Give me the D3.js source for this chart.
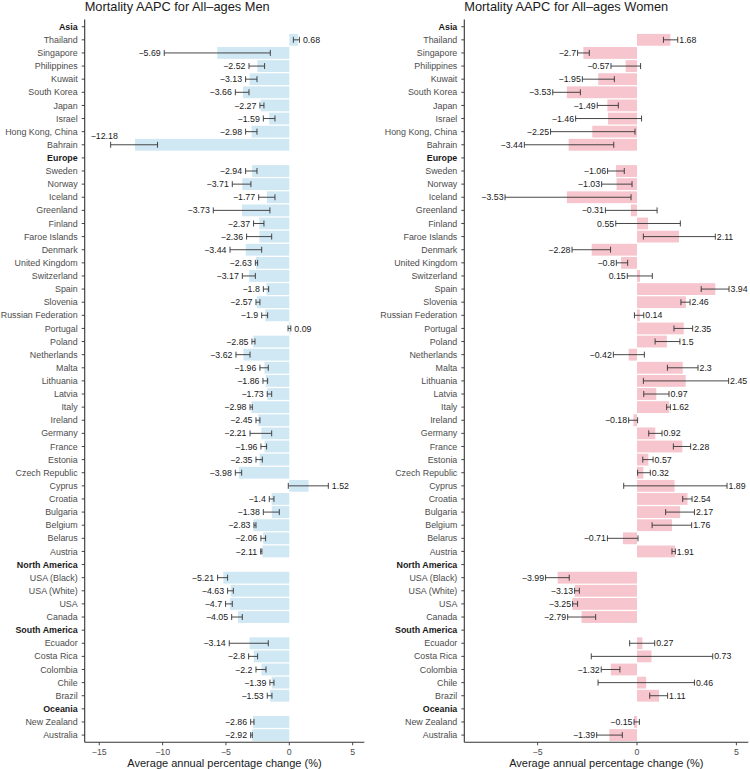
<!DOCTYPE html>
<html lang="en">
<head>
<meta charset="utf-8">
<script src="https://d3js.org/d3.v7.min.js"></script>
<style>
  body { margin: 0; background: #fff; }
  svg text { font-family: "Liberation Sans", Arial, sans-serif; }
</style>
</head>
<body>
<script>

// row labels, region headers included (top to bottom)
var regions = ["Asia", "Europe", "North America", "South America", "Oceania"];
var rowLabels = ["Asia", "Thailand", "Singapore", "Philippines", "Kuwait", "South Korea", "Japan", "Israel",
  "Hong Kong, China", "Bahrain",
  "Europe", "Sweden", "Norway", "Iceland", "Greenland", "Finland", "Faroe Islands", "Denmark",
  "United Kingdom", "Switzerland", "Spain", "Slovenia", "Russian Federation", "Portugal", "Poland",
  "Netherlands", "Malta", "Lithuania", "Latvia", "Italy", "Ireland", "Germany", "France", "Estonia",
  "Czech Republic", "Cyprus", "Croatia", "Bulgaria", "Belgium", "Belarus", "Austria",
  "North America", "USA (Black)", "USA (White)", "USA", "Canada",
  "South America", "Ecuador", "Costa Rica", "Colombia", "Chile", "Brazil",
  "Oceania", "New Zealand", "Australia"];

// men AAPC, lower and upper CI (null on header rows)
var menAAPC = [null, 0.68, -5.69, -2.52, -3.13, -3.66, -2.27, -1.59, -2.98, -12.18,
  null, -2.94, -3.71, -1.77, -3.73, -2.37, -2.36, -3.44, -2.63, -3.17, -1.8, -2.57, -1.9, 0.09, -2.85,
  -3.62, -1.96, -1.86, -1.73, -2.98, -2.45, -2.21, -1.96, -2.35, -3.98, 1.52, -1.4, -1.38, -2.83, -2.06, -2.11,
  null, -5.21, -4.63, -4.7, -4.05,
  null, -3.14, -2.8, -2.2, -1.39, -1.53,
  null, -2.86, -2.92];
var menLower = [null, 0.32, -9.87, -3.18, -3.45, -4.26, -2.32, -2.05, -3.45, -14.1,
  null, -3.45, -4.5, -2.42, -6.0, -2.82, -3.37, -4.68, -2.68, -3.71, -2.05, -2.63, -2.18, -0.1, -2.95,
  -4.21, -2.32, -2.08, -1.74, -3.1, -2.63, -3.1, -2.24, -2.63, -4.26, -0.08, -1.58, -2.05, -2.79, -2.24, -2.26,
  null, -5.66, -4.87, -5.03, -4.55,
  null, -4.74, -3.21, -2.63, -1.53, -1.74,
  null, -3.05, -3.05];
var menUpper = [null, 0.8, -1.5, -1.95, -2.55, -3.18, -2.0, -1.13, -2.55, -10.4,
  null, -2.55, -3.03, -1.13, -1.53, -2.0, -1.39, -2.18, -2.5, -2.68, -1.63, -2.32, -1.71, 0.12, -2.71,
  -3.1, -1.66, -1.71, -1.39, -2.92, -2.32, -1.39, -1.79, -2.13, -3.76, 3.08, -1.21, -0.79, -2.63, -1.87, -2.16,
  null, -4.87, -4.42, -4.5, -3.71,
  null, -1.66, -2.5, -1.84, -1.21, -1.37,
  null, -2.79, -2.92];

// women AAPC, lower and upper CI
var womenAAPC = [null, 1.68, -2.7, -0.57, -1.95, -3.53, -1.49, -1.46, -2.25, -3.44,
  null, -1.06, -1.03, -3.53, -0.31, 0.55, 2.11, -2.28, -0.8, 0.15, 3.94, 2.46, 0.14, 2.35, 1.5,
  -0.42, 2.3, 2.45, 0.97, 1.62, -0.18, 0.92, 2.28, 0.57, 0.32, 1.89, 2.54, 2.17, 1.76, -0.71, 1.91,
  null, -3.99, -3.13, -3.25, -2.79,
  null, 0.27, 0.73, -1.32, 0.46, 1.11,
  null, -0.15, -1.39];
var womenLower = [null, 1.33, -2.99, -1.31, -2.75, -4.24, -2.0, -3.09, -4.35, -5.67,
  null, -1.48, -1.78, -6.64, -1.59, -1.07, 0.32, -3.27, -1.04, -0.49, 3.23, 2.21, -0.13, 1.86, 0.91,
  -1.19, 1.53, 0.32, 0.34, 1.49, -0.42, 0.59, 1.83, 0.29, 0.03, -0.67, 2.3, 1.44, 0.76, -1.49, 1.76,
  null, -4.6, -3.14, -3.24, -3.49,
  null, -0.37, -2.3, -1.8, -1.96, 0.64,
  null, -0.15, -2.03];
var womenUpper = [null, 2.05, -2.4, 0.18, -1.14, -2.85, -0.94, 0.23, -0.1, -1.17,
  null, -0.64, -0.25, -0.3, 1.01, 2.18, 3.94, -1.33, -0.47, 0.77, 4.63, 2.67, 0.34, 2.8, 2.16,
  0.37, 3.07, 4.61, 1.61, 1.68, 0.03, 1.26, 2.7, 0.81, 0.67, 4.53, 2.77, 2.89, 2.75, 0.05, 1.93,
  null, -3.41, -2.9, -2.99, -2.08,
  null, 0.89, 3.81, -0.86, 2.89, 1.54,
  null, 0.12, -0.74];

var menTicks = [-15, -10, -5, 0, 5];
var womenTicks = [-5, 0, 5];

var width = 750, height = 769;
var yTop = 19.5, yBottom = 742.3;

var svg = d3.select("body").append("svg")
  .attr("width", width)
  .attr("height", height);

var y = d3.scalePoint()
  .domain(d3.range(rowLabels.length))
  .range([yTop, yBottom])
  .padding(0.55);
var barH = y.step() * 0.9;

function fmt(v) { return String(v).replace("-", "\u2212"); }

function drawPanel(opt) {
  var x = d3.scaleLinear().domain(opt.domain).range([opt.left, opt.right]);
  var g = svg.append("g");
  var rows = d3.range(rowLabels.length).filter(function(i) { return opt.vals[i] !== null; });

  // bars
  g.selectAll("rect.bar")
    .data(rows)
    .enter().append("rect")
    .attr("x", function(i) { return Math.min(x(0), x(opt.vals[i])); })
    .attr("width", function(i) { return Math.abs(x(opt.vals[i]) - x(0)); })
    .attr("y", function(i) { return y(i) - barH / 2; })
    .attr("height", barH)
    .attr("fill", opt.fill);

  // error bars
  var eb = g.selectAll("g.eb")
    .data(rows)
    .enter().append("g")
    .attr("stroke", "#333")
    .attr("stroke-width", 0.9);
  eb.append("line")
    .attr("x1", function(i) { return x(opt.lo[i]); })
    .attr("x2", function(i) { return x(opt.hi[i]); })
    .attr("y1", function(i) { return y(i); })
    .attr("y2", function(i) { return y(i); });
  eb.append("line")
    .attr("x1", function(i) { return x(opt.lo[i]); })
    .attr("x2", function(i) { return x(opt.lo[i]); })
    .attr("y1", function(i) { return y(i) - 3; })
    .attr("y2", function(i) { return y(i) + 3; });
  eb.append("line")
    .attr("x1", function(i) { return x(opt.hi[i]); })
    .attr("x2", function(i) { return x(opt.hi[i]); })
    .attr("y1", function(i) { return y(i) - 3; })
    .attr("y2", function(i) { return y(i) + 3; });

  // value labels
  rows.forEach(function(i) {
    var v = opt.vals[i];
    var left = v < 0 || opt.leftLabels.indexOf(rowLabels[i]) >= 0;
    var t = g.append("text")
      .attr("font-size", 8.8)
      .attr("fill", "#1a1a1a")
      .attr("dy", "0.35em")
      .attr("y", y(i))
      .text(fmt(v));
    if (left) {
      var xe = x(opt.lo[i]) - opt.gap;
      var w = t.node().getComputedTextLength();
      if (xe - w < opt.left + 2) {
        // no room: nudge above the row, like repel does
        t.attr("x", opt.left + 6).attr("y", y(i) - 9).attr("text-anchor", "start");
      } else {
        t.attr("x", xe).attr("text-anchor", "end");
      }
    } else {
      t.attr("x", x(opt.hi[i]) + opt.gap).attr("text-anchor", "start");
    }
  });

  // y axis
  g.append("line")
    .attr("x1", opt.left).attr("x2", opt.left)
    .attr("y1", yTop).attr("y2", yBottom)
    .attr("stroke", "#333").attr("stroke-width", 1.1);
  var yt = g.selectAll("g.ytick")
    .data(d3.range(rowLabels.length))
    .enter().append("g");
  yt.append("line")
    .attr("x1", opt.left - 3).attr("x2", opt.left)
    .attr("y1", function(i) { return y(i); })
    .attr("y2", function(i) { return y(i); })
    .attr("stroke", "#333").attr("stroke-width", 0.9);
  yt.append("text")
    .attr("x", opt.left - 7)
    .attr("y", function(i) { return y(i); })
    .attr("dy", "0.35em")
    .attr("text-anchor", "end")
    .attr("font-size", 8.9)
    .attr("font-weight", function(i) { return regions.indexOf(rowLabels[i]) >= 0 ? "bold" : "normal"; })
    .attr("fill", function(i) { return regions.indexOf(rowLabels[i]) >= 0 ? "#1a1a1a" : "#4d4d4d"; })
    .text(function(i) { return rowLabels[i]; });

  // x axis
  g.append("line")
    .attr("x1", opt.left).attr("x2", opt.right)
    .attr("y1", yBottom).attr("y2", yBottom)
    .attr("stroke", "#333").attr("stroke-width", 1.1);
  var xt = g.selectAll("g.xtick")
    .data(opt.ticks)
    .enter().append("g");
  xt.append("line")
    .attr("x1", function(d) { return x(d); })
    .attr("x2", function(d) { return x(d); })
    .attr("y1", yBottom).attr("y2", yBottom + 3)
    .attr("stroke", "#333").attr("stroke-width", 0.9);
  xt.append("text")
    .attr("x", function(d) { return x(d); })
    .attr("y", yBottom + 12.5)
    .attr("text-anchor", "middle")
    .attr("font-size", 8.8)
    .attr("fill", "#4d4d4d")
    .text(function(d) { return fmt(d); });

  g.append("text")
    .attr("x", (opt.left + opt.right) / 2)
    .attr("y", 766.5)
    .attr("text-anchor", "middle")
    .attr("font-size", 11)
    .attr("fill", "#1a1a1a")
    .text("Average annual percentage change (%)");

  g.append("text")
    .attr("x", opt.left)
    .attr("y", 11)
    .attr("font-size", 12.8)
    .attr("fill", "#1a1a1a")
    .text(opt.title);
}

drawPanel({
  title: "Mortality AAPC for All\u2013ages Men",
  left: 84.7, right: 364.3, domain: [-16.15, 5.92],
  ticks: menTicks, fill: "#d0e8f4",
  vals: menAAPC, lo: menLower, hi: menUpper,
  gap: 3.5, leftLabels: []
});

drawPanel({
  title: "Mortality AAPC for All\u2013ages Women",
  left: 464.3, right: 748.3, domain: [-8.69, 5.6],
  ticks: womenTicks, fill: "#f6c5cd",
  vals: womenAAPC, lo: womenLower, hi: womenUpper,
  gap: 1.5, leftLabels: ["Finland", "Switzerland"]
});

</script>
</body>
</html>
